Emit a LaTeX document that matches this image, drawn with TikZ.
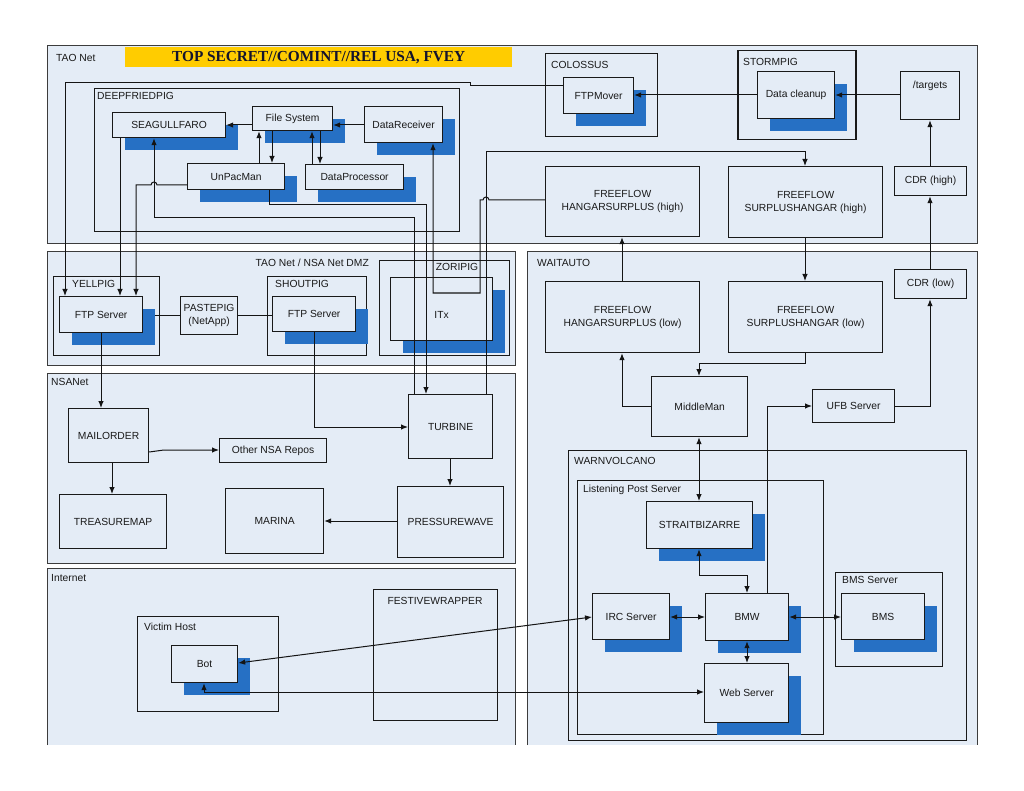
\documentclass[tikz,border=0pt]{standalone}
\usepackage{fontspec}
\setmainfont{Liberation Sans}
\newfontfamily\titlefont{Liberation Serif}
\usetikzlibrary{arrows.meta,shadows}
\definecolor{panelc}{RGB}{228,236,246}
\definecolor{shblue}{RGB}{38,112,196}
\definecolor{ybanner}{RGB}{255,204,0}
\definecolor{boxline}{RGB}{25,25,25}
\definecolor{panelline}{RGB}{60,60,60}
\definecolor{linec}{RGB}{20,20,20}
\definecolor{titlec}{RGB}{20,20,45}
\newcommand{\dfont}{\fontsize{10.3}{13}\selectfont}
\newcommand{\bx}[7][]{\node[box,#1,minimum width=#5pt-#3pt,minimum height=#6pt-#4pt] (#2) at (#3,#4) {#7};}
\tikzset{
  box/.style={draw=boxline, fill=panelc, line width=1.2pt, inner sep=0pt, anchor=north west, align=center, font=\dfont, text=black!90},
  sh/.style={drop shadow={shadow xshift=12pt, shadow yshift=-12pt, fill=shblue, opacity=1}},
  grp/.style={fill=none, draw=boxline, line width=1.2pt},
  glabel/.style={anchor=west, inner sep=0pt, font=\dfont, text=black!90},
  panel/.style={fill=panelc},
  pline/.style={draw=panelline, line width=1pt},
  conn/.style={draw=linec, line width=1pt},
  arr/.style={conn, -{Latex[length=7pt,width=5.5pt]}},
  darr/.style={conn, {Latex[length=7pt,width=5.5pt]}-{Latex[length=7pt,width=5.5pt]}},
}
\begin{document}
\begin{tikzpicture}[x=1pt,y=-1pt]
\useasboundingbox[fill=white] (0,0) rectangle (1024,791);
% ---- panels
\fill[panel] (47,46) rectangle (977,244);
\draw[pline] (47,46) rectangle (977,244);
\fill[panel] (47,252) rectangle (515,365);
\draw[pline] (47,252) rectangle (515,365);
\fill[panel] (47,373) rectangle (515,563);
\draw[pline] (47,373) rectangle (515,563);
\fill[panel] (47,568) rectangle (515,745);
\draw[pline] (47,745) -- (47,568) -- (515,568) -- (515,745);
\fill[panel] (527,252) rectangle (977,745);
\draw[pline] (527,745) -- (527,252) -- (977,252) -- (977,745);
% ---- banner and panel labels
\node[fill=ybanner, anchor=north west, minimum width=387pt, minimum height=20pt, inner sep=0pt, text=titlec,
      font=\titlefont\bfseries\fontsize{15.3}{17}\selectfont] (banner) at (125,47) {TOP SECRET//COMINT//REL USA, FVEY};
\node[glabel] (lTAO) at (56,58) {TAO Net};
\node[glabel, anchor=east] (lDMZ) at (369,263) {TAO Net / NSA Net DMZ};
\node[glabel] (lNSA) at (51,382) {NSANet};
\node[glabel] (lINT) at (51,578) {Internet};
\node[glabel] (lWAIT) at (537,263) {WAITAUTO};
% ---- containers
\bx[grp]{gDFP}{94}{88}{459}{231}{}
\node[glabel] (lDFP) at (97,96) {DEEPFRIEDPIG};
\bx[grp]{gCOL}{545}{53}{657}{136}{}
\node[glabel] (lCOL) at (551,65) {COLOSSUS};
\bx[grp, line width=1.5pt]{gSTP}{737}{50}{855}{139}{}
\node[glabel] (lSTP) at (743,62) {STORMPIG};
\bx[grp]{gYP}{53}{276}{159}{355}{}
\node[glabel] (lYP) at (72,284) {YELLPIG};
\bx[grp]{gSP}{267}{276}{366}{355}{}
\node[glabel] (lSP) at (275,284) {SHOUTPIG};
\bx[grp]{gZP}{379}{260}{509}{355}{}
\node[glabel, anchor=center] (lZP) at (457,267) {ZORIPIG};
\bx[grp]{gVH}{137}{616}{278}{711}{}
\node[glabel] (lVH) at (144,627) {Victim Host};
\bx[grp]{gFW}{373}{589}{497}{720}{}
\node[glabel, anchor=center] (lFW) at (435,601) {FESTIVEWRAPPER};
\bx[grp]{gWV}{568}{450}{966}{740}{}
\node[glabel] (lWV) at (574,461) {WARNVOLCANO};
\bx[grp]{gLP}{577}{480}{823}{734}{}
\node[glabel] (lLP) at (583,490) {Listening Post Server};
\bx[grp]{gBMS}{835}{572}{942}{666}{}
\node[glabel] (lBMS) at (842,580) {BMS Server};
% ---- TAO Net boxes
\bx[sh]{sea}{112}{112}{225}{137}{SEAGULLFARO}
\bx[sh]{fs}{252}{106}{332}{130}{File System}
\bx[sh]{drecv}{364}{106}{442}{142}{DataReceiver}
\bx[sh]{upm}{187}{163}{284}{189}{UnPacMan}
\bx[sh]{dp}{305}{164}{403}{189}{DataProcessor}
\bx[sh]{ftpm}{563}{77}{633}{113}{FTPMover}
\bx[sh]{dclean}{757}{71}{834}{118}{Data cleanup}
\bx{targets}{900}{71}{959}{119}{/targets\\[8pt]}
\bx{hh}{545}{166}{699}{236}{FREEFLOW\\HANGARSURPLUS (high)}
\bx{shh}{728}{166}{882}{237}{FREEFLOW\\SURPLUSHANGAR (high)}
\bx{cdrh}{894}{166}{966}{195}{CDR (high)}
% ---- DMZ boxes
\bx[sh]{yftp}{59}{296}{142}{332}{FTP Server}
\bx{paste}{180}{296}{237}{334}{PASTEPIG\\(NetApp)}
\bx[sh]{sftp}{272}{296}{355}{331}{FTP Server}
\bx[sh]{itx}{390}{277}{492}{340}{\\[6pt]ITx}
% ---- NSANet boxes
\bx{mail}{68}{408}{148}{462}{MAILORDER}
\bx{other}{219}{438}{326}{462}{Other NSA Repos}
\bx{tmap}{59}{494}{166}{548}{TREASUREMAP}
\bx{marina}{225}{488}{323}{553}{MARINA}
\bx{turb}{408}{394}{492}{458}{TURBINE}
\bx{pw}{397}{486}{503}{557}{PRESSUREWAVE}
% ---- Internet
\bx[sh]{bot}{171}{645}{237}{682}{Bot}
% ---- WAITAUTO
\bx{hl}{545}{281}{699}{352}{FREEFLOW\\HANGARSURPLUS (low)}
\bx{shl}{728}{281}{882}{352}{FREEFLOW\\SURPLUSHANGAR (low)}
\bx{cdrl}{894}{269}{966}{298}{CDR (low)}
\bx{mm}{651}{376}{747}{436}{MiddleMan}
\bx{ufb}{812}{389}{894}{422}{UFB Server}
\bx[sh]{sb}{646}{501}{752}{548}{STRAITBIZARRE}
\bx[sh]{irc}{592}{593}{669}{639}{IRC Server}
\bx[sh]{bmw}{705}{593}{788}{640}{BMW}
\bx[sh]{web}{704}{663}{788}{722}{Web Server}
\bx[sh]{bms}{841}{593}{924}{639}{BMS}
% ---- connectors: TAO Net
\draw[arr] (ftpm.west |- 0,86) -- (470,86) -- (470,83) -- (65,83) -- (yftp.north -| 65,0);
\draw[arr] (dclean.west |- 0,95) -- (ftpm.east |- 0,95);
\draw[arr] (targets.west |- 0,95) -- (dclean.east |- 0,95);
\draw[arr] (cdrh.north -| 930,0) -- (targets.south -| 930,0);
\draw[arr] (cdrl.north -| 930,0) -- (cdrh.south -| 930,0);
\draw[arr] (ufb.east |- 0,406) -- (930,406) -- (cdrl.south -| 930,0);
\draw[arr] (fs.west |- 0,125) -- (sea.east |- 0,125);
\draw[arr] (drecv.west |- 0,125) -- (fs.east |- 0,125);
\draw[arr] (upm.north -| 259,0) -- (fs.south -| 259,0);
\draw[arr] (fs.south -| 272,0) -- (upm.north -| 272,0);
\draw[arr] (dp.north -| 312,0) -- (fs.south -| 312,0);
\draw[arr] (fs.south -| 320,0) -- (dp.north -| 320,0);
\draw[arr] (turb.north -| 414,0) -- (414,218) -- (154,218) -- (sea.south -| 154,0);
\draw[arr] (upm.south -| 269,0) -- (269,205) -- (426,205) -- (turb.north -| 426,0);
\draw[arr] (turb.north -| 486,0) -- (486,152) -- (805,152) -- (shh.north -| 805,0);
\draw[arr] (hh.west |- 0,200) -- (489,200) arc[start angle=0,end angle=-180,radius=3] -- (480,200) -- (480,293) -- (433,293) -- (drecv.south -| 433,0);
\draw[arr] (sea.south -| 120,0) -- (yftp.north -| 120,0);
\draw[arr] (upm.west |- 0,185) -- (157,185) arc[start angle=0,end angle=-180,radius=3] -- (136,185) -- (yftp.north -| 136,0);
% ---- DMZ / NSANet
\draw[conn] ([xshift=12pt]yftp.east |- 0,315) -- (paste.west |- 0,315);
\draw[conn] (paste.east |- 0,315) -- (sftp.west |- 0,315);
\draw[arr] (yftp.south -| 101,0) -- (mail.north -| 101,0);
\draw[arr] (sftp.south -| 314,0) -- (314,427) -- (turb.west |- 0,427);
\draw[arr] (mail.east |- 0,452) -- (164,450) -- (other.west |- 0,450);
\draw[arr] (mail.south -| 112,0) -- (tmap.north -| 112,0);
\draw[arr] (turb.south -| 450,0) -- (pw.north -| 450,0);
\draw[arr] (pw.west |- 0,521) -- (marina.east |- 0,521);
% ---- WAITAUTO
\draw[arr] (hl.north -| 622,0) -- (hh.south -| 622,0);
\draw[arr] (shh.south -| 805,0) -- (shl.north -| 805,0);
\draw[arr] (shl.south -| 805,0) -- (805,363) -- (699,363) -- (mm.north -| 699,0);
\draw[arr] (mm.west |- 0,406) -- (622,406) -- (hl.south -| 622,0);
\draw[darr] (mm.south -| 699,0) -- (sb.north -| 699,0);
\draw[darr] (sb.south -| 699,0) -- (699,575) -- (747,575) -- (bmw.north -| 747,0);
\draw[arr] (bmw.north -| 767,0) -- (767,406) -- (ufb.west |- 0,406);
\draw[darr] (irc.east |- 0,617) -- (bmw.west |- 0,617);
\draw[darr] (bmw.east |- 0,617) -- (bms.west |- 0,617);
\draw[darr] (bmw.south -| 747,0) -- (web.north -| 747,0);
\draw[darr] (bot.east |- 0,663) -- (irc.west |- 0,617);
\draw[darr] (bot.south -| 204,0) -- (204,692) -- (web.west |- 0,692);
\end{tikzpicture}
\end{document}
